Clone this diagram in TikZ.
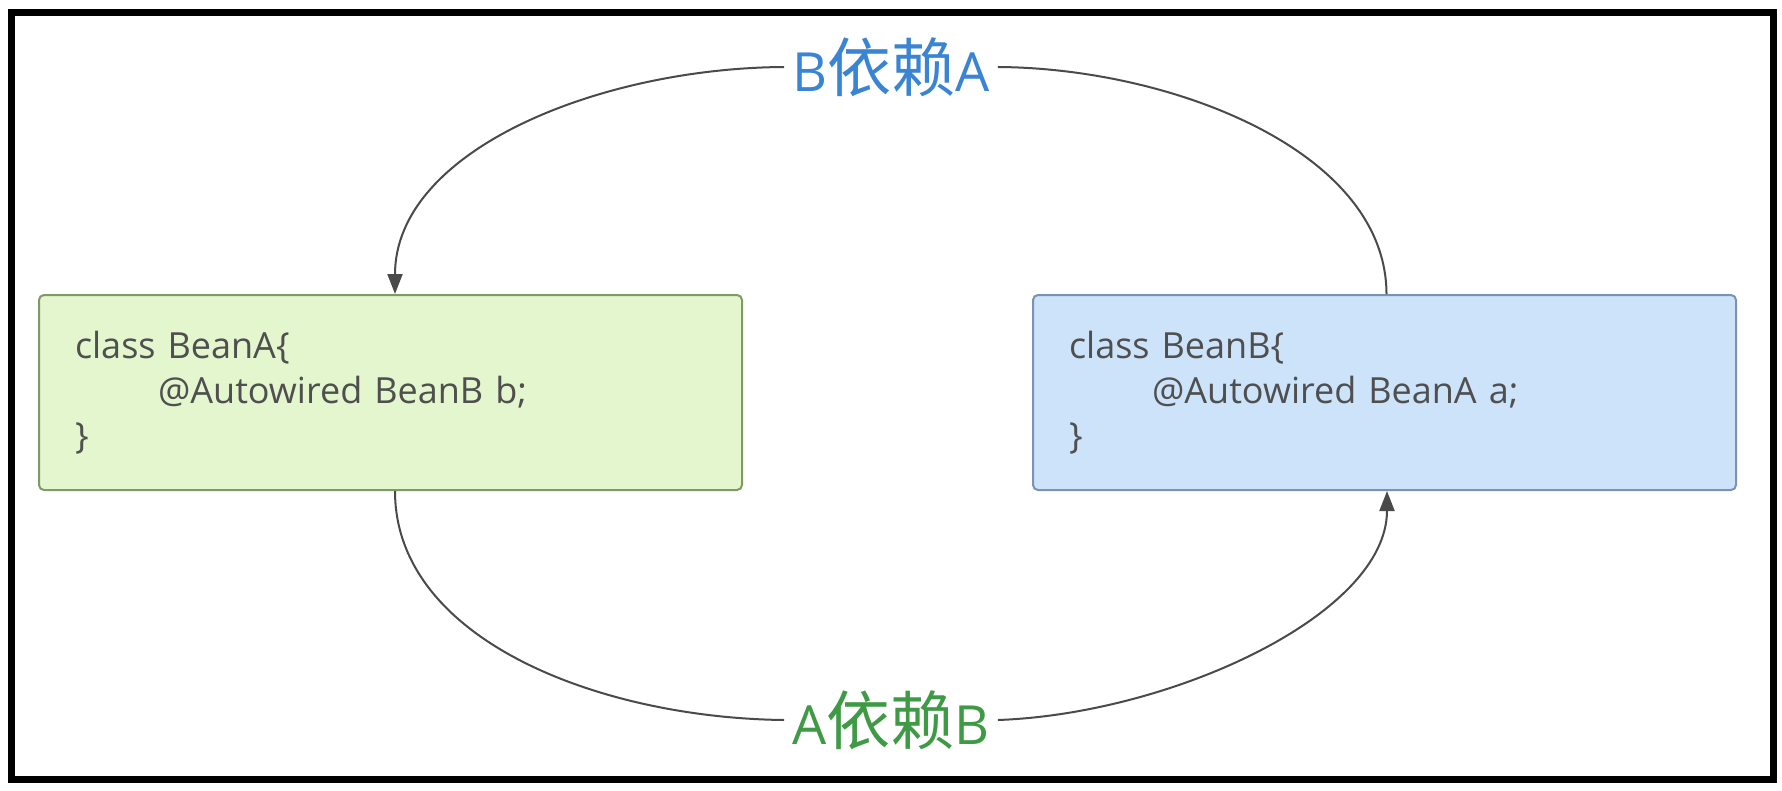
\documentclass[tikz,border=0pt]{standalone}
\usepackage{fontspec}
\setmainfont{Open Sans}
\newfontfamily\cjk{Noto Sans CJK SC}
\usetikzlibrary{arrows.meta}
\definecolor{afill}{HTML}{E4F6CE}
\definecolor{aline}{HTML}{7E9A66}
\definecolor{bfill}{HTML}{CCE3FA}
\definecolor{bline}{HTML}{7A93B3}
\definecolor{conn}{HTML}{4A4A4A}
\definecolor{txt}{HTML}{4F4F4F}
\definecolor{lblue}{HTML}{3A84D4}
\definecolor{lgreen}{HTML}{3E9A45}
\newcommand{\lbltext}[2]{{\fontsize{54}{54}\selectfont #1}{\cjk\fontsize{64}{64}\selectfont 依赖}{\fontsize{54}{54}\selectfont #2}}
\begin{document}
\begin{tikzpicture}[x=1pt,y=-1pt,
  beanbox/.style={draw, line width=2pt, rounded corners=5pt, minimum width=703pt, minimum height=195pt,
    text width=631pt, align=left, inner xsep=36pt, text=txt,
    font=\fontsize{36}{45}\selectfont},
  deplabel/.style={fill=white, inner xsep=8pt, inner ysep=4pt},
  conline/.style={draw=conn, line width=2pt},
  tip/.style={-{Triangle[length=20pt,width=15pt]}}
]
\useasboundingbox (0,0) rectangle (1782,790);
\fill[white] (0,0) rectangle (1782,790);
\draw[line width=7pt] (11.5,12.5) rectangle (1773.5,779.5);

\node[beanbox, fill=afill, draw=aline] (A) at (390.5,392.5)
  {class BeanA\{\\\hspace*{83pt}@Autowired BeanB b;\\\}};
\node[beanbox, fill=bfill, draw=bline] (B) at (1384.5,392.5)
  {class BeanB\{\\\hspace*{83pt}@Autowired BeanA a;\\\}};

\node[deplabel, text=lblue] (lt) at (891,67) {\lbltext{B}{A}};
\node[deplabel, text=lgreen] (lb) at (891,720) {\lbltext{A}{B}};

\draw[conline] ([xshift=2pt]B.north) .. controls (1386,150) and (1170,68) .. (lt.east);
\draw[conline, tip] (lt.west) .. controls (600,68) and (395,150) .. ([xshift=4.5pt]A.north);
\draw[conline] ([xshift=4.5pt]A.south) .. controls (395,640) and (600,718) .. (lb.west);
\draw[conline, tip] (lb.east) .. controls (1170,714) and (1387,615) .. ([xshift=2.5pt]B.south);
\end{tikzpicture}
\end{document}
